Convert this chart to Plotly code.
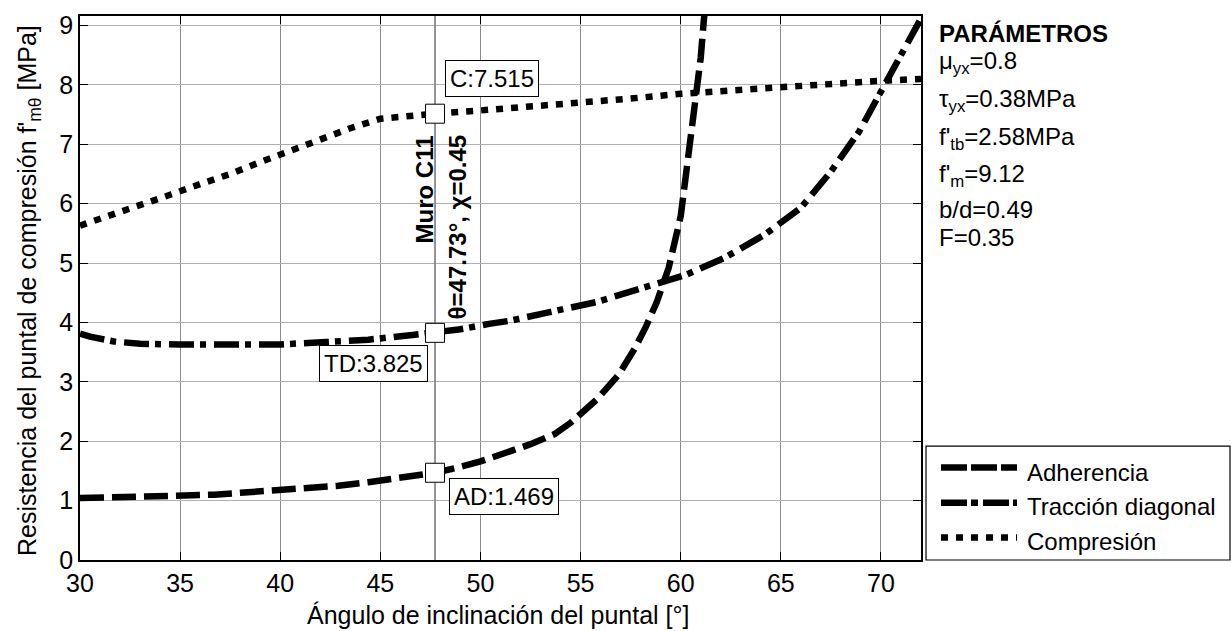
import plotly.graph_objects as go

# Resistencia del puntal (MPa) según el ángulo de inclinación (°) para cada mecanismo
ang_ad = [30.0, 32.0, 33.3, 35.2, 36.7, 38.3, 39.8, 41.3, 42.9, 44.4, 45.9, 47.73,
          48.9, 50.0, 51.3, 52.5, 53.7, 54.5, 55.8, 56.9, 57.7, 58.25, 58.8, 59.4,
          60.0, 60.25, 60.5, 60.75, 61.0, 61.15, 61.25]
res_ad = [1.045, 1.05, 1.06, 1.085, 1.10, 1.14, 1.17, 1.20, 1.25, 1.31, 1.37, 1.469,
          1.56, 1.66, 1.81, 1.95, 2.12, 2.31, 2.70, 3.12, 3.56, 3.92, 4.34, 4.92,
          5.79, 6.46, 7.07, 7.68, 8.46, 9.07, 9.40]

ang_td = [30.0, 30.5, 31.7, 33.0, 35.0, 37.5, 40.0, 42.3, 44.4, 46.6, 47.73, 48.9,
          50.5, 51.5, 53.4, 55.75, 57.9, 60.25, 62.2, 64.2, 66.0, 67.5, 68.9, 70.0,
          71.1, 72.0]
res_td = [3.81, 3.76, 3.68, 3.64, 3.63, 3.62, 3.63, 3.67, 3.71, 3.79, 3.825, 3.88,
          3.98, 4.03, 4.17, 4.34, 4.56, 4.80, 5.09, 5.48, 5.93, 6.54, 7.21, 7.90,
          8.59, 9.12]

ang_c = [30.0, 31.7, 33.1, 34.5, 36.0, 37.5, 39.0, 40.5, 42.0, 43.5, 45.0, 46.5,
         47.73, 50.0, 52.5, 55.0, 57.5, 60.0, 62.5, 65.0, 67.5, 70.0, 72.0]
res_c = [5.63, 5.82, 5.98, 6.15, 6.33, 6.50, 6.70, 6.89, 7.07, 7.27, 7.43, 7.49,
         7.515, 7.57, 7.63, 7.69, 7.77, 7.85, 7.91, 7.96, 8.02, 8.07, 8.10]

series_names = ["Adherencia", "Tracción diagonal", "Compresión"]

# Muro analizado
muro = "Muro C11"
theta_muro = 47.73
chi_muro = 0.45
val_ad = 1.469
val_td = 3.825
val_c = 7.515

x_range = [30, 72]
y_range = [0, 9.16]
x_ticks = [30, 35, 40, 45, 50, 55, 60, 65, 70]
y_ticks = [0, 1, 2, 3, 4, 5, 6, 7, 8, 9]

params = [
    "μ<sub>yx</sub>=0.8",
    "τ<sub>yx</sub>=0.38MPa",
    "f'<sub>tb</sub>=2.58MPa",
    "f'<sub>m</sub>=9.12",
    "b/d=0.49",
    "F=0.35",
]

# Geometría de la figura (px)
W, H = 1231, 631
L, R, T, B = 80, 310, 11, 71
PW, PH = W - L - R, H - T - B
FONT = "Liberation Sans, Arial, sans-serif"


def px_x(px):
    return (px - L) / PW


def px_y(py):
    return (H - B - py) / PH


dash_ad = "24px,8px"
dash_td = "25px,6px,6px,8px"
dash_c = "7px,8px"
LW = 6.5

fig = go.Figure()

# Línea vertical del muro
fig.add_trace(go.Scatter(x=[theta_muro, theta_muro], y=y_range, mode="lines",
                         line=dict(color="#7a7a7a", width=1.6),
                         showlegend=False, hoverinfo="skip"))

fig.add_trace(go.Scatter(x=ang_ad, y=res_ad, mode="lines", name=series_names[0],
                         line=dict(color="black", width=LW, dash=dash_ad),
                         showlegend=False))
fig.add_trace(go.Scatter(x=ang_td, y=res_td, mode="lines", name=series_names[1],
                         line=dict(color="black", width=LW, dash=dash_td),
                         showlegend=False))
fig.add_trace(go.Scatter(x=ang_c, y=res_c, mode="lines", name=series_names[2],
                         line=dict(color="black", width=LW, dash=dash_c),
                         showlegend=False))

# Puntos del muro sobre cada curva
fig.add_trace(go.Scatter(x=[theta_muro] * 3, y=[val_c, val_td, val_ad], mode="markers",
                         marker=dict(symbol="square", size=19, color="white",
                                     line=dict(color="black", width=1)),
                         showlegend=False))

ann = []
box = dict(bgcolor="white", bordercolor="black", borderwidth=1, borderpad=4,
           showarrow=False, font=dict(family=FONT, size=24, color="black"))
ann.append(dict(x=theta_muro, y=val_c, xref="x", yref="y", text=f"C:{val_c:.3f}",
                xanchor="left", yanchor="bottom", xshift=9.6, yshift=16.6, **box))
ann.append(dict(x=theta_muro, y=val_td, xref="x", yref="y", text=f"TD:{val_td:.3f}",
                xanchor="right", yanchor="top", xshift=-7, yshift=-12.4, **box))
ann.append(dict(x=theta_muro, y=val_ad, xref="x", yref="y", text=f"AD:{val_ad:.3f}",
                xanchor="left", yanchor="top", xshift=13.6, yshift=-5.7, **box))

# Textos verticales del muro
bold24 = dict(family=FONT, size=24, color="black")
ann.append(dict(x=theta_muro, y=px_y(186), xref="x", yref="paper", text=f"<b>{muro}</b>",
                textangle=-90, xanchor="left", yanchor="middle", xshift=-26.4,
                showarrow=False, font=bold24))
ann.append(dict(x=theta_muro, y=px_y(224), xref="x", yref="paper",
                text=f"<b>θ={theta_muro:.2f}°, χ={chi_muro:.2f}</b>",
                textangle=-90, xanchor="left", yanchor="middle", xshift=6.8,
                showarrow=False, font=bold24))

# Títulos de ejes
ann.append(dict(x=px_x(497.5), y=px_y(599.4), xref="paper", yref="paper",
                text="Ángulo de inclinación del puntal [°]", xanchor="center",
                yanchor="top", showarrow=False,
                font=dict(family=FONT, size=25, color="black")))
ann.append(dict(x=px_x(11), y=px_y(288.5), xref="paper", yref="paper",
                text="Resistencia del puntal de compresión f'<sub>mθ</sub> [MPa]",
                textangle=-90, xanchor="left", yanchor="middle", showarrow=False,
                font=dict(family=FONT, size=25, color="black")))

# Bloque de parámetros
param_tops = [40.6, 78.3, 117.3, 154.0, 190.6, 219.0]
ann.append(dict(x=px_x(937), y=px_y(13), xref="paper", yref="paper",
                text="<b>PARÁMETROS</b>", xanchor="left", yanchor="top",
                showarrow=False, font=bold24))
for txt, top in zip(params, param_tops):
    ann.append(dict(x=px_x(937), y=px_y(top), xref="paper", yref="paper", text=txt,
                    xanchor="left", yanchor="top", showarrow=False,
                    font=dict(family=FONT, size=24, color="black")))

# Leyenda dibujada a mano
shapes = [dict(type="rect", xref="paper", yref="paper", x0=px_x(926), x1=px_x(1230),
               y0=px_y(560), y1=px_y(445), line=dict(color="black", width=1.2),
               fillcolor="white", layer="above")]
leg_rows = [466.7, 502.3, 537.3]
leg_text_tops = [455.6, 490.6, 525.6]
leg_dash = ["26px,4px", "26px,4px,7px,5px", "7px,8px"]
for name, row, top, dsh in zip(series_names, leg_rows, leg_text_tops, leg_dash):
    shapes.append(dict(type="line", xref="paper", yref="paper", x0=px_x(941), x1=px_x(1017),
                       y0=px_y(row), y1=px_y(row), layer="above",
                       line=dict(color="black", width=LW, dash=dsh)))
    ann.append(dict(x=px_x(1025), y=px_y(top), xref="paper", yref="paper", text=name,
                    xanchor="left", yanchor="top", showarrow=False,
                    font=dict(family=FONT, size=24, color="black")))

axis_common = dict(ticks="inside", ticklen=8, tickwidth=1, tickcolor="black",
                   showline=True, linecolor="black", linewidth=1.5, mirror="allticks",
                   showgrid=True, gridwidth=1, zeroline=False,
                   tickfont=dict(family=FONT, size=25, color="black"))

fig.update_layout(
    width=W, height=H,
    margin=dict(l=L, r=R, t=T, b=B, pad=0),
    paper_bgcolor="white", plot_bgcolor="white",
    xaxis=dict(range=x_range, tickvals=x_ticks, gridcolor="#8c8c8c", **axis_common),
    yaxis=dict(range=y_range, tickvals=y_ticks, gridcolor="#b0b0b0", **axis_common),
    annotations=ann, shapes=shapes, showlegend=False,
    font=dict(family=FONT, color="black"),
)

fig.write_html("out.html")
